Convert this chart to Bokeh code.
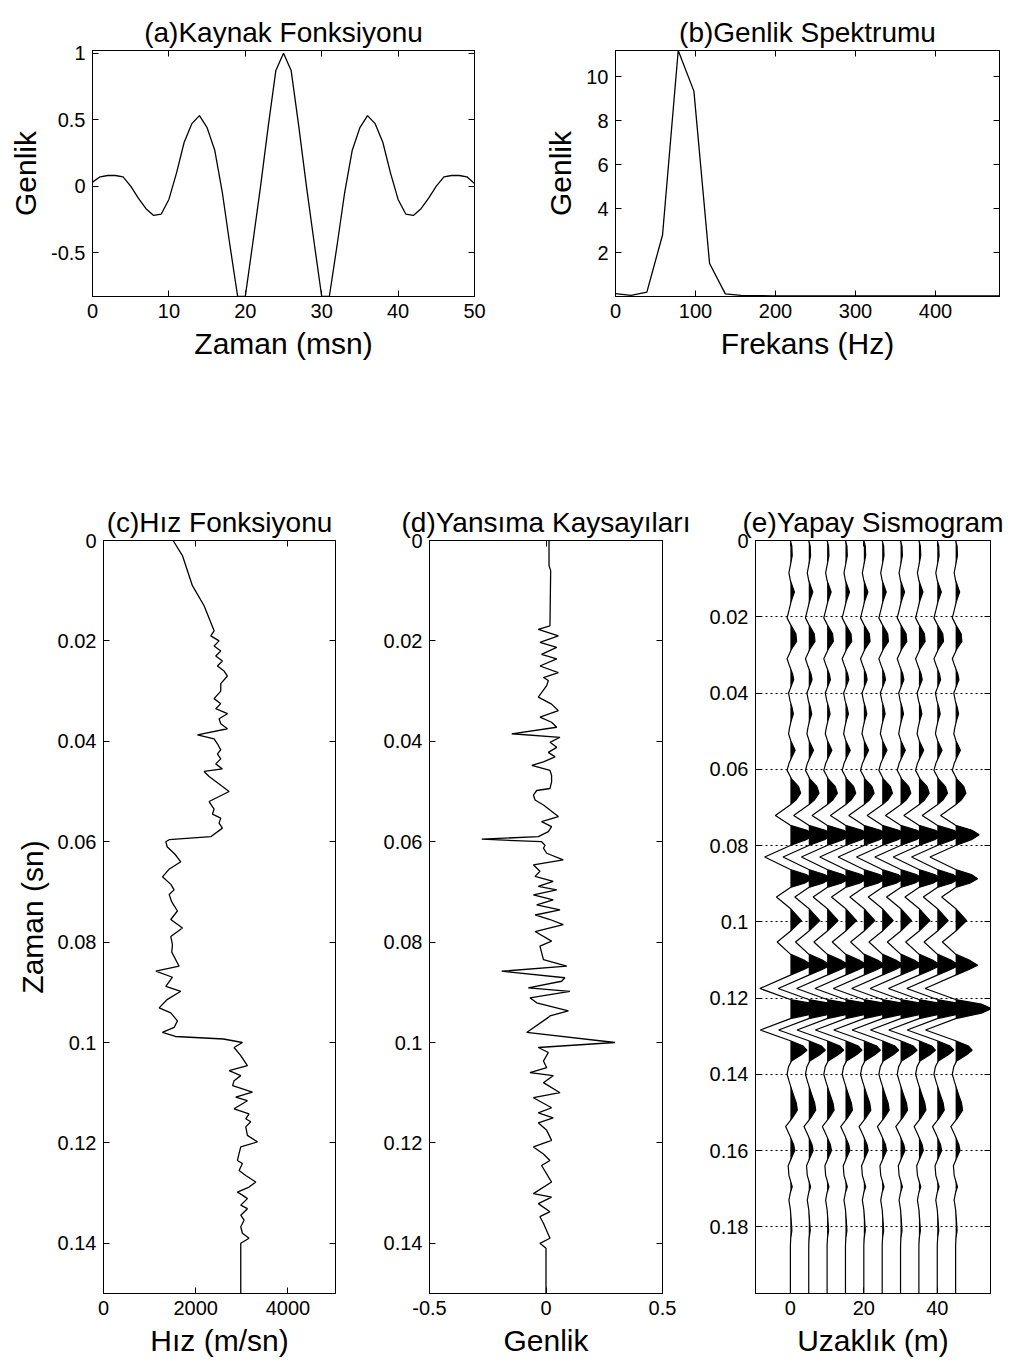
import numpy as np
from bokeh.plotting import figure
from bokeh.layouts import column, row
from bokeh.models import Range1d, FixedTicker, LinearAxis, CustomJSTickFormatter
from bokeh.embed import file_html
from bokeh.resources import INLINE

FONT = "Liberation Sans"

# ---------------- data ----------------
# (a) source wavelet, 1 ms samples
wavelet_t_ms = list(range(51))
wavelet_amp = [0.03, 0.07, 0.08, 0.08, 0.07, 0.0, -0.09, -0.17, -0.22, -0.21, -0.1,
               0.1, 0.33, 0.47, 0.53, 0.44, 0.27, -0.05, -0.45, -0.83, -0.83,
               -0.42, 0.0, 0.45, 0.87, 1.0, 0.87, 0.45, 0.0, -0.42, -0.83,
               -0.83, -0.45, -0.05, 0.27, 0.44, 0.53, 0.47, 0.33, 0.1, -0.1,
               -0.21, -0.22, -0.17, -0.09, 0.0, 0.07, 0.08, 0.08, 0.07, 0.02]

# (b) amplitude spectrum
spec_freq_hz = [0, 19.6, 39.2, 58.8, 78.4, 98.0, 117.6, 137.3, 156.9, 176.5, 196.1,
                215.7, 235.3, 254.9, 274.5, 294.1, 313.7, 333.3, 352.9, 372.5,
                392.2, 411.8, 431.4, 451.0, 470.6, 490.2]
spec_amp = [0.13, 0.05, 0.2, 2.8, 11.2, 9.35, 1.5, 0.12, 0.05, 0.04, 0.03,
            0.03, 0.03, 0.03, 0.03, 0.03, 0.03, 0.03, 0.03, 0.03,
            0.03, 0.03, 0.03, 0.03, 0.03, 0.03]

# (c) velocity function (vertices)
vel_t_ms = [0, 3, 9, 13, 18, 19, 20, 21, 22, 23, 24, 25, 26, 27, 28.5, 30, 31.5, 32.5,
            33.5, 34.5, 35.5, 36.5, 37.5, 38.7, 39.5, 40.5, 41.7, 42.5, 43.5, 44.5,
            45.5, 46, 47, 50, 52, 53.5, 54.5, 55.3, 56.3, 57.3, 59, 59.6, 60, 61,
            62.5, 64, 65.5, 67, 68.5, 69.6, 70.5, 72, 73.8, 75.5, 77.2, 78.9, 80.5,
            82, 84.8, 85.8, 87, 88.8, 89.8, 91.4, 93.1, 94.1, 95.7, 97, 98, 98.8,
            99.3, 100, 101, 102.6, 104.6, 105.6, 106.6, 107.6, 108.6, 109.9, 110.9,
            111.6, 113.2, 114.2, 115.2, 115.8, 116.8, 118.5, 119.8, 120.8, 122.1,
            123.5, 124.1, 125.5, 126.5, 127.8, 128.8, 129.8, 130.4, 131.1, 132.4,
            133.1, 134.4, 135.4, 136.7, 138, 139, 140, 150]
vel_ms = [1509, 1711, 1928, 2181, 2398, 2326, 2506, 2398, 2542, 2434, 2578, 2470,
          2615, 2687, 2542, 2542, 2398, 2542, 2434, 2687, 2506, 2542, 2687, 2037,
          2398, 2470, 2542, 2470, 2542, 2434, 2578, 2181, 2290, 2723, 2290, 2398,
          2362, 2542, 2506, 2578, 2326, 1423, 1351, 1380, 1550, 1676, 1420, 1278,
          1460, 1531, 1423, 1480, 1603, 1459, 1712, 1459, 1495, 1480, 1639, 1134,
          1495, 1351, 1676, 1387, 1206, 1459, 1603, 1531, 1278, 1560, 2600, 3012,
          2831, 2976, 3120, 2723, 2976, 2831, 2800, 3228, 2867, 3120, 2831, 3156,
          3084, 3192, 3084, 3120, 3337, 2976, 2940, 2903, 3012, 2940, 3084, 3301,
          3156, 2903, 3012, 3120, 2976, 3120, 2976, 3048, 2976, 3012, 3156, 2976,
          2976]

# (d) reflection coefficients (vertices)
refl_t_ms = [0, 5, 6, 17, 17.7, 19, 20.3, 21.3, 22.7, 23.6, 25, 26.3, 27.3, 27.9, 28.9,
             30.3, 31.2, 32.6, 33.9, 35.2, 36.2, 37.2, 38.5, 39.2, 40.2, 41.2, 42.2,
             43.1, 44.1, 44.8, 45.8, 46.8, 48.1, 49.4, 49.8, 50.7, 51.7, 52.7, 53.7,
             55, 56, 57, 58, 59, 59.5, 60, 60.7, 61.3, 62.3, 63.6, 64.6, 65.9, 66.9,
             67.9, 68.9, 69.6, 70.6, 71.6, 72.6, 73.6, 74.6, 75.5, 76.5, 77.9, 79.8,
             80.8, 83.5, 84.8, 85.8, 87.1, 87.8, 89.1, 89.8, 91.1, 92.1, 93.7, 94.7,
             95, 98, 100, 101, 102, 103.7, 105, 106, 106.6, 108, 110, 111, 113, 114,
             115, 116, 117.5, 119.5, 120.8, 122.2, 123.5, 124.5, 127.8, 130.1, 130.8,
             132.1, 133.7, 134.7, 136, 139, 140, 141, 150]
refl_coef = [0.013, 0.013, 0.02, 0.017, -0.033, 0.053, -0.026, 0.046, -0.019, 0.046,
             -0.026, 0.053, -0.011, 0.01, 0.003, -0.019, -0.033, 0.024, 0.053, -0.026,
             0.024, 0.046, -0.147, 0.06, 0.017, 0.046, 0.01, 0.039, -0.011, -0.061,
             0.017, 0.024, 0.024, 0.017, -0.04, -0.054, -0.047, -0.011, 0.017, 0.053,
             -0.019, 0.024, 0.01, -0.033, -0.276, -0.019, -0.004, -0.011, 0.003, 0.074,
             -0.054, -0.026, -0.047, 0.031, -0.033, 0.046, -0.054, 0.031, -0.04, 0.06,
             -0.047, 0.017, 0.074, -0.047, 0.024, -0.026, -0.011, 0.089, -0.19, 0.081,
             0.067, -0.076, 0.103, -0.069, -0.04, 0.096, 0.017, 0.01, -0.083, 0.296,
             -0.033, 0.01, -0.011, 0.003, -0.069, 0.031, -0.011, 0.06, -0.054, 0.024,
             -0.033, 0.031, -0.033, 0.003, 0.024, -0.054, -0.011, 0.017, -0.019, 0.024,
             -0.054, 0.024, -0.033, 0.017, -0.026, -0.011, 0.017, -0.026, 0.0, 0.0]

# (e) synthetic seismogram: one trace (deflection in m), repeated at each offset
trace_offsets_m = [0, 5, 10, 15, 20, 25, 30, 35, 40, 45]
trace_t_ms = [0, 1.5, 4, 6, 8.5, 10.5, 13.5, 16, 18, 20.3, 22, 24.5, 26.5, 28.5, 31, 33,
              35, 36.5, 38, 40, 42, 44, 45.5, 47, 49, 50.7, 52.5, 55, 57, 58.5, 60.3,
              62.5, 64.5, 66.3, 68, 69.3, 72.1, 74.7, 76, 77.2, 78.5, 80, 83, 86.3,
              87.6, 88.7, 89.9, 91, 93.5, 96.5, 99.7, 102.5, 105.3, 108.5, 110.2,
              111.4, 112.6, 114, 117.5, 120.4, 121.6, 122.8, 124, 125.4, 128.4, 131.2,
              132.6, 133.7, 134.9, 136.5, 138, 140, 142, 145, 147.5, 149.4, 151.5,
              153.7, 156, 158.5, 160, 161.5, 164, 166.5, 169.5, 171, 173, 175.5, 178,
              181, 183, 185, 197.5]
trace_amp = [0, 0.4, 0.5, 0.1, -0.4, 0, 1.1, 0.2, -0.3, -0.9, 0, 1.5, 1.7, 0.3, -0.9,
             -0.2, 0.6, 0.9, 0.3, -0.5, -0.1, 0.5, 0.8, 0.3, -0.2, -0.5, 0.1, 1.3, 0.3,
             -0.4, -0.9, 0.3, 2.2, 2.8, 1.6, 0, -4.1, 0, 4.5, 6.4, 4.3, 0, -7.0, 0, 4.3,
             6.0, 3.8, 0, -3.8, 0, 3.0, 0, -3.6, 0, 4.0, 6.0, 3.5, 0, -8.3, 0, 7.0, 9.8,
             7.0, 0, -8.2, 0, 3.5, 4.5, 3.0, 0.3, -0.5, -0.9, -0.3, 0.7, 1.6, 1.9, 0.5,
             -1.3, -0.2, 0.9, 1.2, 0.5, -0.6, -0.4, 0.5, 0, -0.4, 0, 0.2, 0.4, 0.1, 0, 0]

# tick positions
a_xticks = [0, 10, 20, 30, 40, 50]
a_yticks = [-0.5, 0, 0.5, 1]
b_xticks = [0, 100, 200, 300, 400]
b_yticks = [2, 4, 6, 8, 10]
c_xticks = [0, 2000, 4000]
cd_yticks = [0, 0.02, 0.04, 0.06, 0.08, 0.1, 0.12, 0.14]
d_xticks = [-0.5, 0, 0.5]
e_xticks = [0, 20, 40]
e_yticks = [0, 0.02, 0.04, 0.06, 0.08, 0.1, 0.12, 0.14, 0.16, 0.18]


# ---------------- helpers ----------------
def base_fig(width, height, xr, yr, borders, title):
    p = figure(width=width, height=height, x_range=xr, y_range=yr,
               min_border_left=borders[0], min_border_right=borders[1],
               min_border_top=borders[2], min_border_bottom=borders[3],
               output_backend="svg", toolbar_location=None, tools="", title=title)
    p.title.align = "center"
    p.title.text_font = FONT
    p.title.text_font_size = "28px"
    p.title.text_font_style = "normal"
    p.title.text_color = "black"
    p.title.standoff = 6
    p.outline_line_color = "black"
    p.outline_line_width = 1
    p.background_fill_color = "white"
    p.border_fill_color = "white"
    p.xgrid.visible = False
    p.ygrid.visible = False
    return p


def style_axis(ax, ticks, show_labels=True):
    ax.ticker = FixedTicker(ticks=ticks)
    ax.major_tick_in = 6
    ax.major_tick_out = 0
    ax.minor_tick_line_color = None
    ax.axis_line_color = "black"
    ax.major_tick_line_color = "black"
    ax.major_label_text_font = FONT
    ax.axis_label_text_font = FONT
    ax.axis_label_text_font_size = "30px"
    ax.axis_label_text_font_style = "normal"
    ax.axis_label_text_color = "black"
    if show_labels:
        ax.formatter = CustomJSTickFormatter(code="return String(tick);")
        ax.major_label_text_font_size = "20px"
        ax.major_label_text_color = "black"
        ax.major_label_standoff = 7
    else:
        ax.formatter = CustomJSTickFormatter(code="return '';")
        ax.major_label_text_font_size = "1px"
        ax.major_label_text_color = None
        ax.major_label_standoff = 0


def setup_axes(p, xt, yt, xlabel=None, ylabel=None):
    style_axis(p.xaxis[0], xt)
    style_axis(p.yaxis[0], yt)
    if xlabel:
        p.xaxis[0].axis_label = xlabel
        p.xaxis[0].axis_label_standoff = 6
    if ylabel:
        p.yaxis[0].axis_label = ylabel
        p.yaxis[0].axis_label_standoff = 6
    top = LinearAxis()
    style_axis(top, xt, show_labels=False)
    p.add_layout(top, "above")
    right = LinearAxis()
    style_axis(right, yt, show_labels=False)
    p.add_layout(right, "right")


def positive_part(t, a):
    """Clip the trace at zero (with exact zero crossings) for the black fill."""
    ts, xs = [], []
    for i in range(len(t)):
        if i > 0 and a[i - 1] != 0 and a[i] != 0 and (a[i - 1] > 0) != (a[i] > 0):
            f = a[i - 1] / (a[i - 1] - a[i])
            ts.append(t[i - 1] + f * (t[i] - t[i - 1]))
            xs.append(0.0)
        ts.append(t[i])
        xs.append(max(a[i], 0.0))
    return np.array(ts), np.array(xs)


LW = 1.3

# ---------------- (a) ----------------
pa = base_fig(530, 460, Range1d(0, 50), Range1d(-0.83, 1.02), (92, 56, 50, 164),
              "(a)Kaynak Fonksiyonu")
setup_axes(pa, a_xticks, a_yticks, "Zaman (msn)", "Genlik")
pa.line(wavelet_t_ms, wavelet_amp, line_color="black", line_width=LW)

# ---------------- (b) ----------------
pb = base_fig(495, 460, Range1d(0, 480), Range1d(0, 11.2), (85, 26, 50, 164),
              "(b)Genlik Spektrumu")
setup_axes(pb, b_xticks, b_yticks, "Frekans (Hz)", "Genlik")
pb.line(spec_freq_hz, spec_amp, line_color="black", line_width=LW)

# ---------------- (c) ----------------
pc = base_fig(370, 908, Range1d(0, 5030), Range1d(0.15, 0), (103, 35, 80, 75),
              "(c)Hız Fonksiyonu")
setup_axes(pc, c_xticks, cd_yticks, "Hız (m/sn)", "Zaman (sn)")
pc.line(vel_ms, np.array(vel_t_ms) / 1000.0, line_color="black", line_width=LW)

# ---------------- (d) ----------------
pd = base_fig(330, 908, Range1d(-0.5, 0.5), Range1d(0.15, 0), (59, 38, 80, 75),
              "(d)Yansıma Kaysayıları")
setup_axes(pd, d_xticks, cd_yticks, "Genlik", None)
pd.line(refl_coef, np.array(refl_t_ms) / 1000.0, line_color="black", line_width=LW)

# ---------------- (e) ----------------
pe = base_fig(325, 908, Range1d(-9.5, 54.5), Range1d(0.1975, 0), (55, 35, 80, 75),
              "(e)Yapay Sismogram")
setup_axes(pe, e_xticks, e_yticks, "Uzaklık (m)", None)
pe.ygrid.visible = True
pe.ygrid.ticker = FixedTicker(ticks=e_yticks[1:])
pe.ygrid.grid_line_color = "black"
pe.ygrid.grid_line_dash = "2 3"
pe.ygrid.grid_line_width = 1

tr_t = np.array(trace_t_ms) / 1000.0
tr_a = np.array(trace_amp)
pos_t, pos_a = positive_part(list(tr_t), list(tr_a))
for off in trace_offsets_m:
    pe.harea(x1=np.full(len(pos_t), float(off)), x2=off + pos_a, y=pos_t,
             fill_color="black", fill_alpha=1.0)
for off in trace_offsets_m:
    pe.line(off + tr_a, tr_t, line_color="black", line_width=1.2)

layout = column(row(pa, pb), row(pc, pd, pe))
open("out.html", "w").write(file_html(layout, INLINE))
